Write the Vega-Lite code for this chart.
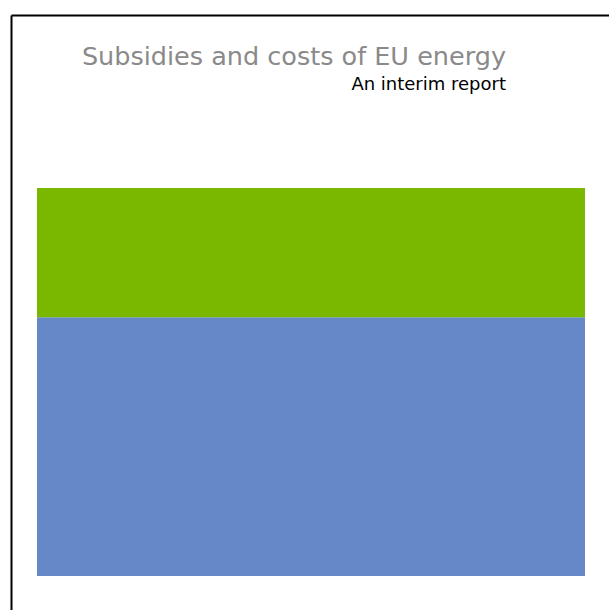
{
  "$schema": "https://vega.github.io/schema/vega-lite/v6.json",
  "width": 598,
  "height": 595,
  "autosize": "none",
  "padding": {"left": 11, "top": 15, "right": 0, "bottom": 0},
  "background": "white",
  "title": {
    "text": "Subsidies and costs of EU energy",
    "subtitle": "An interim report",
    "anchor": "end",
    "frame": "group",
    "dx": -103,
    "offset": -79,
    "font": "DejaVu Sans",
    "fontSize": 25.5,
    "fontWeight": "normal",
    "color": "#8a8a8a",
    "subtitleFont": "DejaVu Sans",
    "subtitleFontSize": 18,
    "subtitleColor": "#000000",
    "subtitlePadding": 6
  },
  "data": {
    "values": [
      {"category": "EU energy", "component": "Costs", "value": 200},
      {"category": "EU energy", "component": "Subsidies", "value": 100}
    ]
  },
  "mark": {"type": "bar"},
  "encoding": {
    "x": {
      "field": "category",
      "type": "nominal",
      "scale": {"paddingInner": 0, "paddingOuter": 0.04562, "align": 0.52},
      "axis": {"orient": "top", "title": null, "labels": false, "ticks": false, "grid": false, "domainColor": "#000000", "domainWidth": 2}
    },
    "y": {
      "field": "value",
      "type": "quantitative",
      "stack": "zero",
      "scale": {"domain": [-26.29, 433.76], "zero": false, "nice": false},
      "axis": {"orient": "left", "title": null, "labels": false, "ticks": false, "grid": false, "domainColor": "#000000", "domainWidth": 2}
    },
    "color": {
      "field": "component",
      "type": "nominal",
      "scale": {"domain": ["Costs", "Subsidies"], "range": ["#6788c8", "#7ab800"]},
      "legend": null
    },
    "order": {"field": "component", "sort": "ascending"}
  },
  "config": {"view": {"stroke": null}}
}
